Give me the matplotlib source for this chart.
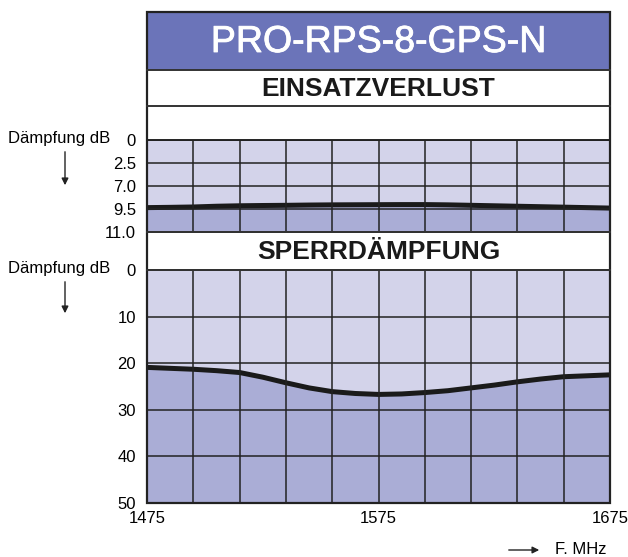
import numpy as np
import matplotlib.pyplot as plt
import matplotlib.patheffects as pe
from matplotlib.patches import Rectangle
from matplotlib.lines import Line2D

plt.rcParams['font.family'] = ['Liberation Sans', 'DejaVu Sans']

# frequency points (MHz)
freq = [1475, 1485, 1495, 1505, 1515, 1525, 1535, 1545, 1555, 1565, 1575,
        1585, 1595, 1605, 1615, 1625, 1635, 1645, 1655, 1665, 1675]
# insertion loss (dB)
einsatz = [9.35, 9.32, 9.28, 9.2, 9.15, 9.12, 9.1, 9.07, 9.05, 9.04, 9.03,
           9.02, 9.02, 9.05, 9.1, 9.15, 9.2, 9.25, 9.3, 9.35, 9.4]
# stop-band attenuation (dB)
sperr = [20.9, 21.1, 21.3, 21.6, 22.0, 23.0, 24.2, 25.3, 26.1, 26.5, 26.7,
         26.6, 26.3, 25.9, 25.3, 24.7, 24.0, 23.4, 22.9, 22.7, 22.5]

top_ticks = [0, 2.5, 7.0, 9.5, 11.0]
top_labels = ['0', '2.5', '7.0', '9.5', '11.0']
bot_ticks = [0, 10, 20, 30, 40, 50]
x_ticks = [1475, 1575, 1675]

light = '#d3d3ea'
dark = '#aaadd6'
purple = '#6b74b9'

W, H = 628, 557
fig = plt.figure(figsize=(W / 100, H / 100), dpi=100)

def fx(px):
    return px / W

def fy(py):
    return 1 - py / H

left, right = 147, 610

# top panel: non-linear axis with equally spaced ticks
idx = np.arange(len(top_ticks))

def fwd(v):
    return np.interp(v, top_ticks, idx)

def inv(v):
    return np.interp(v, idx, top_ticks)

ax1 = fig.add_axes([fx(left), fy(232), fx(right - left), fy(140) - fy(232)])
ax1.set_yscale('function', functions=(fwd, inv))
ax1.set_ylim(11.0, 0)
ax1.set_xlim(1475, 1675)
ax1.set_facecolor(light)
ax1.fill_between(freq, einsatz, 11.0, color=dark, lw=0)
ax1.set_yticks(top_ticks)
ax1.set_yticklabels(top_labels)
ax1.set_xticks(np.arange(1475, 1676, 20))
ax1.tick_params(axis='x', length=0, labelbottom=False)
ax1.tick_params(axis='y', length=0, pad=8, labelsize=12)
ax1.yaxis.set_minor_locator(plt.NullLocator())
ax1.grid(True, color='#222222', lw=1.1)
ax1.set_axisbelow(False)
ax1.plot(freq, einsatz, color='#1a1a1a', lw=3.6, solid_capstyle='butt')

# bottom panel
ax2 = fig.add_axes([fx(left), fy(503), fx(right - left), fy(270) - fy(503)])
ax2.set_ylim(50, 0)
ax2.set_xlim(1475, 1675)
ax2.set_facecolor(light)
ax2.fill_between(freq, sperr, 50, color=dark, lw=0)
ax2.set_yticks(bot_ticks)
ax2.set_xticks(np.arange(1475, 1676, 20), minor=True)
ax2.set_xticks(x_ticks)
ax2.tick_params(axis='both', which='both', length=0, labelsize=12)
ax2.tick_params(axis='y', pad=8)
ax2.tick_params(axis='x', pad=6)
ax2.grid(True, which='both', color='#222222', lw=1.1)
ax2.set_axisbelow(False)
ax2.plot(freq, sperr, color='#1a1a1a', lw=3.6, solid_capstyle='butt')

for ax in (ax1, ax2):
    for s in ax.spines.values():
        s.set_color('#222222')
        s.set_linewidth(1.4)

# title bands
fig.add_artist(Rectangle((fx(left), fy(70)), fx(right - left), fy(12) - fy(70),
                         transform=fig.transFigure, facecolor=purple, edgecolor='none'))
fig.text(fx((left + right) / 2), fy(42), 'PRO-RPS-8-GPS-N', color='white',
         fontsize=27, ha='center', va='center',
         path_effects=[pe.withStroke(linewidth=0.6, foreground='white')])
fig.text(fx((left + right) / 2), fy(89), 'EINSATZVERLUST', color='#1a1a1a',
         fontsize=19, fontweight='bold', ha='center', va='center')
fig.text(fx((left + right) / 2), fy(252), 'SPERRDÄMPFUNG', color='#1a1a1a',
         fontsize=19, fontweight='bold', ha='center', va='center')

# band separator lines and outer frame
for py in (70, 106, 232, 270):
    fig.add_artist(Line2D([fx(left), fx(right)], [fy(py), fy(py)],
                          transform=fig.transFigure, color='#333333', lw=1.4))
fig.add_artist(Rectangle((fx(left), fy(503)), fx(right - left), fy(12) - fy(503),
                         transform=fig.transFigure, facecolor='none',
                         edgecolor='#222222', lw=1.6))

# left axis captions with arrows
for py, y0, y1 in ((138, 149, 188), (269, 279, 316)):
    fig.text(fx(8), fy(py), 'Dämpfung dB', fontsize=12, ha='left', va='center')
    fig.add_artist(plt.Annotation('', xy=(fx(65), fy(y1)), xytext=(fx(65), fy(y0)),
                                  xycoords='figure fraction',
                                  arrowprops=dict(arrowstyle='-|>', color='#222222',
                                                  lw=1, mutation_scale=10)))

# frequency caption
fig.text(fx(555), fy(549), 'F. MHz', fontsize=12, ha='left', va='center')
fig.add_artist(plt.Annotation('', xy=(fx(542), fy(550)), xytext=(fx(506), fy(550)),
                              xycoords='figure fraction',
                              arrowprops=dict(arrowstyle='-|>', color='#222222',
                                              lw=1, mutation_scale=10)))

fig.savefig('out.png', dpi=100)
